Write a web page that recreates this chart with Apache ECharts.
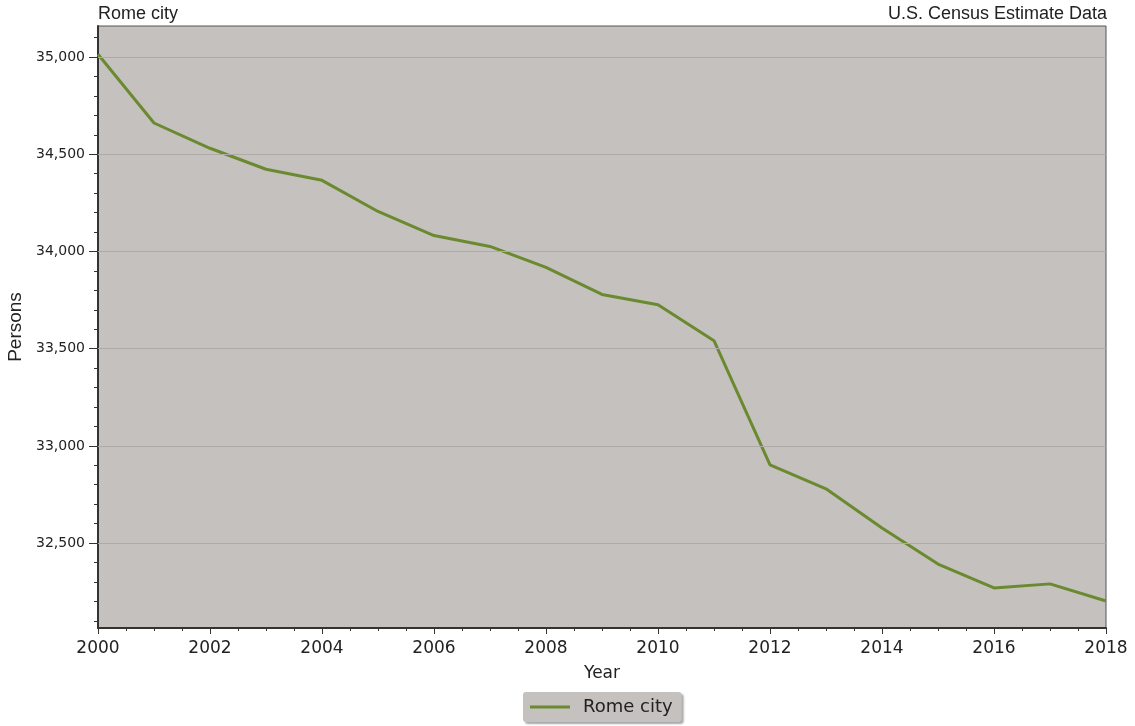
<!DOCTYPE html>
<html>
<head>
<meta charset="utf-8">
<script src="https://cdn.jsdelivr.net/npm/echarts@6/dist/echarts.min.js"></script>
<style>
  html, body { margin: 0; padding: 0; background: #fff; }
  #chart { width: 1135px; height: 726px; }
</style>
</head>
<body>
<div id="chart"></div>
<script>
// population estimates
const years = [2000, 2001, 2002, 2003, 2004, 2005, 2006, 2007, 2008, 2009,
               2010, 2011, 2012, 2013, 2014, 2015, 2016, 2017, 2018];
const persons = [35015, 34661, 34531, 34423, 34366, 34206, 34082, 34026, 33918, 33779,
                 33726, 33541, 32902, 32779, 32577, 32392, 32269, 32290, 32202];

const yLabels = [32500, 33000, 33500, 34000, 34500, 35000];
const yMinorTicks = [];
for (let v = 32100; v <= 35100; v += 100) yMinorTicks.push(v);

const yMin = 32063;
const yMax = 35160;

const chart = echarts.init(document.getElementById('chart'));

const fmt = v => v.toLocaleString('en-US');

chart.setOption({
  animation: false,
  grid: { left: 98, right: 29, top: 26, bottom: 98, show: true,
          outerBoundsMode: 'none', containLabel: false,
          backgroundColor: '#c4c1bf', borderColor: '#555', borderWidth: 1 },
  graphic: [
    { type: 'text', left: 98, top: 5,
      style: { text: 'Rome city', font: '18px "Liberation Sans", Arial', fill: '#222' } },
    { type: 'text', right: 28, top: 5,
      style: { text: 'U.S. Census Estimate Data', font: '18px "Liberation Sans", Arial', fill: '#222' } }
  ],
  legend: {
    data: ['Rome city'],
    left: 523, top: 692,
    itemWidth: 40, itemHeight: 3, itemGap: 10,
    backgroundColor: '#c4c1bf',
    borderRadius: 3,
    padding: [6, 9, 6, 7],
    shadowColor: 'rgba(0,0,0,0.35)', shadowBlur: 2, shadowOffsetX: 2, shadowOffsetY: 2,
    textStyle: { fontFamily: 'DejaVu Sans', fontSize: 18, color: '#222', padding: [0, 0, 0, 8] },
    icon: 'rect'
  },
  xAxis: {
    type: 'value', min: 2000, max: 2018, interval: 2,
    name: 'Year', nameLocation: 'middle', nameGap: 37,
    nameTextStyle: { fontFamily: 'DejaVu Sans', fontSize: 17, color: '#222' },
    axisLine: { lineStyle: { color: '#333', width: 2 } },
    axisTick: { show: true, length: 6, lineStyle: { color: '#333' } },
    minorTick: { show: true, splitNumber: 4, length: 3, lineStyle: { color: '#333' } },
    axisLabel: { fontFamily: 'DejaVu Sans', fontSize: 17, color: '#222', margin: 12,
                 formatter: v => String(v) },
    splitLine: { show: false }
  },
  yAxis: [
    {
      type: 'value', min: yMin, max: yMax,
      name: 'Persons', nameLocation: 'middle', nameGap: 67, nameRotate: 90,
      nameTextStyle: { fontFamily: '"Liberation Sans", Arial', fontSize: 19, color: '#222' },
      axisLine: { show: true, lineStyle: { color: '#333', width: 2 } },
      axisTick: { show: true, length: 9, customValues: yLabels, lineStyle: { color: '#333' } },
      axisLabel: { customValues: yLabels, fontFamily: 'DejaVu Sans', fontSize: 14, color: '#222',
                   margin: 13, formatter: v => fmt(v) },
      splitLine: { show: false }
    },
    {
      type: 'value', min: yMin, max: yMax, position: 'left',
      axisLine: { show: false },
      axisTick: { show: true, length: 4, customValues: yMinorTicks, lineStyle: { color: '#333' } },
      axisLabel: { show: false },
      splitLine: { show: false }
    }
  ],
  series: [{
    name: 'Rome city',
    type: 'line',
    data: years.map((y, i) => [y, persons[i]]),
    showSymbol: false,
    lineStyle: { color: '#6b8a30', width: 3 },
    itemStyle: { color: '#6b8a30' },
    markLine: {
      silent: true, symbol: 'none', label: { show: false },
      lineStyle: { color: '#adaaa8', width: 1, type: 'solid' },
      data: yLabels.map(v => ({ yAxis: v }))
    },
    z: 3
  }]
});
</script>
</body>
</html>
